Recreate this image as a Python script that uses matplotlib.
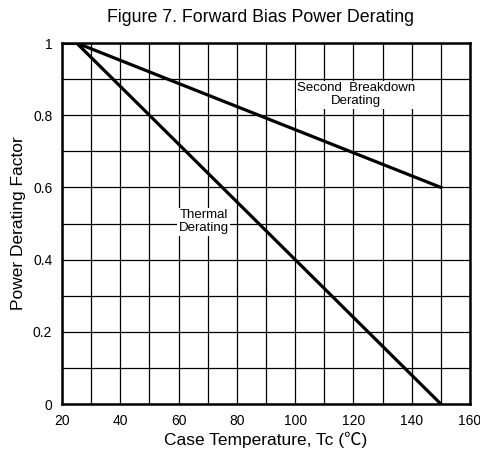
import numpy as np
import matplotlib.pyplot as plt

# case temperature (C) and derating factor
temp_sb = [20, 25, 150]
factor_sb = [1.0, 1.0, 0.6]
temp_th = [20, 25, 150]
factor_th = [1.0, 1.0, 0.0]

xticks = [20, 40, 60, 80, 100, 120, 140, 160]
yticks = [0, 0.2, 0.4, 0.6, 0.8, 1]
ytick_labels = ['0', '0.2', '0.4', '0.6', '0.8', '1']

plt.rcParams['font.family'] = ['Liberation Sans', 'Noto Sans CJK SC', 'DejaVu Sans']

fig = plt.figure(figsize=(4.81, 4.54), dpi=100)
ax = fig.add_axes([62 / 481, 1 - 404 / 454, 408 / 481, 361 / 454])

ax.plot(temp_sb, factor_sb, color='black', lw=2.3, zorder=3)
ax.plot(temp_th, factor_th, color='black', lw=2.3, zorder=3)

ax.set_xlim(20, 160)
ax.set_ylim(0, 1)
ax.set_xticks(xticks)
ax.set_yticks(yticks)
ax.set_yticklabels(ytick_labels)
ax.set_xticks(np.arange(20, 161, 10), minor=True)
ax.set_yticks(np.arange(0, 1.01, 0.1), minor=True)
ax.grid(which='both', color='black', lw=0.9)
ax.tick_params(which='both', length=0, labelsize=10, pad=7)
for s in ax.spines.values():
    s.set_linewidth(1.8)

ax.text(121, 0.857, 'Second  Breakdown\nDerating', ha='center', va='center',
        fontsize=9.5, linespacing=1.1,
        bbox=dict(facecolor='white', edgecolor='none', pad=1), zorder=4)
ax.text(68.6, 0.505, 'Thermal\nDerating', ha='center', va='center',
        fontsize=9.5, linespacing=1.1,
        bbox=dict(facecolor='white', edgecolor='none', pad=1), zorder=4)

ax.set_xlabel('Case Temperature, Tc (℃)', fontsize=12.5, labelpad=3)
ax.set_ylabel('Power Derating Factor', fontsize=12.5, labelpad=5)
fig.text(261 / 481, 1 - 17 / 454, 'Figure 7. Forward Bias Power Derating',
         ha='center', va='center', fontsize=12.8)

fig.savefig('out.png', dpi=100)
